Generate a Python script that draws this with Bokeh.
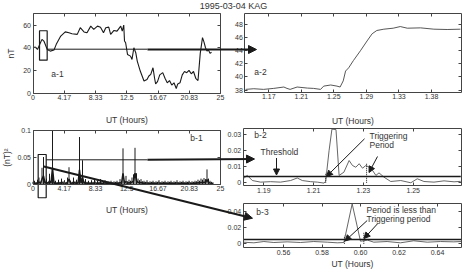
import numpy as np
from bokeh.plotting import figure
from bokeh.models import Range1d, LinearAxis, FixedTicker, Label, Arrow, NormalHead
from bokeh.embed import file_html
from bokeh.resources import INLINE

W, H = 465, 271
FONT = "Liberation Sans"
INK = "#1a1a1a"
AXC = "#444444"
TXT = "#333333"

title_text = "1995-03-04 KAG"
x_label = "UT (Hours)"

# ---- panel a-1 : whole day, nT ----
a1_t = [0.0, 0.3, 0.6, 0.9, 1.2, 1.45, 1.6, 1.9, 2.3, 2.8, 3.1, 3.7, 4.3, 4.8, 5.2, 5.9,
        6.3, 6.8, 7.2, 7.7, 8.1, 8.6, 9.0, 9.4, 9.7, 10.1, 10.35, 10.8, 11.2, 11.7, 11.9,
        12.1, 12.2, 12.35, 12.6, 13.0, 13.2, 13.45, 13.7, 13.9, 14.3, 14.8, 15.2, 15.45,
        15.7, 16.0, 16.2, 16.35, 16.6, 16.9, 17.3, 17.6, 17.9, 18.2, 18.5, 18.8, 19.1,
        19.3, 19.6, 19.9, 20.2, 20.5, 20.8, 21.1, 21.4, 21.7, 22.0, 22.3, 22.6, 22.8,
        23.0, 23.2, 23.4, 23.6, 23.8, 24.0]
a1_v = [40, 40.6, 38.5, 43, 47.4, 45.9, 43.5, 38.5, 37, 38, 43, 50.3, 54, 53.2, 52.4,
        51.8, 57.7, 54, 53.2, 59.1, 56.2, 59.1, 58.2, 53.2, 57.7, 58.2, 51.8, 55.3, 54.7,
        59.1, 54.7, 60, 46, 44.4, 34.1, 32.6, 29.7, 40, 35.6, 28.2, 19.4, 10.6, 12, 15,
        16.5, 22.3, 13.5, 8, 10, 16, 18, 13, 9, 11, 7, 9, 4, 8, 9, 16, 19, 18, 20, 17, 19,
        13, 11, 35, 49, 45, 40, 37, 38, 35, 36]
a1_ticks = [0, 25 / 6, 50 / 6, 12.5, 100 / 6, 125 / 6, 25]
a1_tick_labels = ["0", "4.17", "8.33", "12.5", "16.67", "20.83", "25"]
a1_yticks = [0, 20, 40, 60]
a1_ytick_labels = ["0", "20", "40", "60"]
a1_box_t = [0.87, 1.89]
a1_box_v = [29, 55]

# ---- panel a-2 : zoom, nT ----
a2_t = [1.137, 1.1475, 1.160, 1.173, 1.186, 1.190, 1.194, 1.203, 1.216, 1.224, 1.233,
        1.237, 1.246, 1.254, 1.258, 1.262, 1.265, 1.269, 1.275, 1.284, 1.2925, 1.299,
        1.305, 1.314, 1.326, 1.335, 1.344, 1.361, 1.378, 1.395, 1.412]
a2_v = [38.1, 38.2, 38.1, 38.25, 38.46, 38.25, 38.1, 38.46, 38.3, 38.25, 38.1, 38.6,
        38.77, 38.6, 38.46, 39.4, 40.9, 41.4, 42.5, 44.0, 45.5, 46.6, 47.1, 47.3, 47.45,
        47.7, 47.45, 47.5, 47.3, 47.25, 47.3]
a2_ticks = [1 + 10 / 60, 1 + 12.5 / 60, 1.25, 1 + 17.5 / 60, 1 + 20 / 60, 1 + 22.5 / 60]
a2_tick_labels = ["1.17", "1.21", "1.25", "1.29", "1.33", "1.38"]
a2_yticks = [38, 40, 42, 44, 46, 48]
a2_ytick_labels = ["38", "40", "42", "44", "46", "48"]

# ---- panel b-1 : whole day, (nT)^2 ----
b1_t = [round(0.2 * i, 1) for i in range(121)]
b1_v = [0.004, 0.006, 0.003, 0.008, 0.012, 0.004, 0.030, 0.050, 0.006, 0.010,
        0.004, 0.019, 0.005, 0.100, 0.004, 0.006, 0.003, 0.008, 0.004, 0.010,
        0.005, 0.007, 0.003, 0.012, 0.031, 0.006, 0.004, 0.012, 0.005, 0.008,
        0.004, 0.087, 0.006, 0.044, 0.005, 0.009, 0.004, 0.006, 0.003, 0.007,
        0.004, 0.008, 0.003, 0.006, 0.004, 0.009, 0.003, 0.005, 0.007, 0.003,
        0.005, 0.004, 0.006, 0.003, 0.005, 0.004, 0.006, 0.003, 0.009, 0.004,
        0.066, 0.006, 0.015, 0.005, 0.008, 0.006, 0.012, 0.018, 0.067, 0.020,
        0.010, 0.007, 0.009, 0.005, 0.006, 0.004, 0.007, 0.003, 0.005, 0.004,
        0.006, 0.003, 0.005, 0.004, 0.007, 0.003, 0.005, 0.004, 0.006, 0.003,
        0.005, 0.004, 0.006, 0.003, 0.005, 0.004, 0.007, 0.003, 0.005, 0.004,
        0.006, 0.003, 0.005, 0.004, 0.006, 0.003, 0.005, 0.004, 0.006, 0.005,
        0.008, 0.006, 0.010, 0.008, 0.011, 0.009, 0.027, 0.010, 0.006, 0.004,
        0.003]
b1_yticks = [0, 0.05, 0.1]
b1_ytick_labels = ["0", "0.05", "0.1"]
b1_box_t = [0.69, 1.76]
b1_box_v = [-0.0255, 0.0546]

# ---- panel b-2 ----
b2_t = [1.1789, 1.1806, 1.1827, 1.1862, 1.1903, 1.1945, 1.1987, 1.2015, 1.2036, 1.2071,
        1.2099, 1.2127, 1.2134, 1.2148, 1.2160, 1.2177, 1.2190, 1.2210, 1.2232, 1.2246,
        1.2260, 1.2274, 1.2288, 1.2302, 1.2316, 1.2330, 1.2344, 1.2357, 1.2378, 1.2406,
        1.2448, 1.2490, 1.2517, 1.2545, 1.2587, 1.2629, 1.2671, 1.2699]
b2_v = [0.0025, 0.0046, 0.0014, 0.0004, 0.0007, 0.0004, 0.0014, 0.0030, 0.0014, 0.0007,
        0.0004, -0.0002, 0.0010, 0.0200, 0.0335, 0.0332, 0.0046, 0.0066, 0.0139, 0.0108,
        0.0097, 0.0119, 0.0091, 0.0108, 0.0097, 0.0077, 0.0046, 0.0062, 0.0035, 0.0008,
        0.0014, 0.0000, 0.0025, 0.0008, 0.0004, 0.0012, 0.0006, 0.0009]
b2_ticks = [1.1875, 1 + 12.5 / 60, 1 + 13.75 / 60, 1.25]
b2_tick_labels = ["1.19", "1.21", "1.23", "1.25"]
b2_yticks = [0, 0.01, 0.02, 0.03]
b2_ytick_labels = ["0", "0.01", "0.02", "0.03"]
b2_threshold = 0.0039
b2_trigger_t = [1.2134, 1.2305]
b2_trigger_top = [0.0063, 0.0120]

# ---- panel b-3 ----
b3_t = [0.5365, 0.5423, 0.5477, 0.5531, 0.5603, 0.5675, 0.5747, 0.5820, 0.5874, 0.5910,
        0.5955, 0.6000, 0.6038, 0.6072, 0.6144, 0.6216, 0.6288, 0.6361, 0.6433, 0.6505,
        0.6545]
b3_v = [0.0020, 0.0012, 0.0028, 0.0016, 0.0024, 0.0016, 0.0028, 0.0020, 0.0012, 0.0016,
        0.0490, 0.0032, 0.0045, 0.0020, 0.0028, 0.0012, 0.0037, 0.0020, 0.0028, 0.0024,
        0.0028]
b3_ticks = [0.55 + 0.5 / 60, 0.55 + 1.75 / 60, 0.6, 0.6 + 1.25 / 60, 0.6 + 2.5 / 60]
b3_tick_labels = ["0.56", "0.58", "0.60", "0.62", "0.64"]
b3_yticks = [0, 0.02, 0.04]
b3_ytick_labels = ["0", "0.02", "0.04"]
b3_threshold = 0.0053
b3_trigger_t = [0.5913, 0.6018]
b3_trigger_top = [0.0100, 0.0140]

# ---------------------------------------------------------------
p = figure(width=W, height=H, x_range=Range1d(0, W), y_range=Range1d(H, 0),
           min_border=0, x_axis_location=None, y_axis_location=None,
           toolbar_location=None, output_backend="svg", outline_line_color=None,
           background_fill_color="white", border_fill_color="white")
p.xgrid.visible = False
p.ygrid.visible = False

panels = {}


def make_panel(name, rect, xr, yr):
    L, R, T, B = rect
    x0, x1 = xr
    y0, y1 = yr
    sx = (x1 - x0) / (R - L)
    sy = (y1 - y0) / (B - T)
    xs = dict(p.extra_x_ranges)
    xs[name] = Range1d(x0 - L * sx, x0 + (W - L) * sx)
    p.extra_x_ranges = xs
    ys = dict(p.extra_y_ranges)
    ys[name] = Range1d(y0 - (H - B) * sy, y1 + T * sy)
    p.extra_y_ranges = ys
    panels[name] = (xr, yr)


def add_axes(name, xt, xl, yt, yl, xlab=None, ylab=None, xstand=8, ystand=3):
    xr, yr = panels[name]
    base = dict(x_range_name=name, y_range_name=name, axis_line_color=AXC,
                axis_line_width=1, major_tick_line_color=AXC, major_tick_in=3,
                major_tick_out=0, minor_tick_in=0, minor_tick_out=0,
                major_label_text_font=FONT, major_label_text_color=TXT,
                major_label_standoff=2, major_label_text_font_size="7px",
                axis_label_text_font=FONT, axis_label_text_font_size="8.5px",
                axis_label_text_font_style="normal", axis_label_text_color=TXT)
    xover = {float(t): s for t, s in zip(xt, xl)}
    yover = {float(t): s for t, s in zip(yt, yl)}
    xblank = {float(t): "" for t in xt}
    yblank = {float(t): "" for t in yt}
    p.add_layout(LinearAxis(fixed_location=yr[0], bounds=xr, ticker=FixedTicker(ticks=xt),
                            major_label_overrides=xover, axis_label=xlab,
                            axis_label_standoff=xstand, **base), "below")
    p.add_layout(LinearAxis(fixed_location=yr[1], bounds=xr, ticker=FixedTicker(ticks=xt),
                            major_label_overrides=xblank, **base), "above")
    p.add_layout(LinearAxis(fixed_location=xr[0], bounds=yr, ticker=FixedTicker(ticks=yt),
                            major_label_overrides=yover, axis_label=ylab,
                            axis_label_standoff=ystand, **base), "left")
    p.add_layout(LinearAxis(fixed_location=xr[1], bounds=yr, ticker=FixedTicker(ticks=yt),
                            major_label_overrides=yblank, **base), "right")


make_panel("a1", (32.5, 220, 13.3, 92.5), (0, 25), (0, 70))
make_panel("a2", (244.3, 461, 13.3, 91.5), (1.136, 1.4134), (37.7, 49.65))
make_panel("b1", (32.5, 220, 129.5, 183.5), (0, 25), (0, 0.1))
make_panel("b2", (242.7, 461, 128, 185), (1.17888, 1.27021), (-0.0017, 0.0339))
make_panel("b3", (242.7, 461, 202.7, 247.3), (0.53652, 0.65466), (-0.0049, 0.0498))

# data
p.line(a1_t, a1_v, x_range_name="a1", y_range_name="a1", line_color=INK, line_width=1.1)
p.quad(left=[a1_box_t[0]], right=[a1_box_t[1]], bottom=[a1_box_v[0]], top=[a1_box_v[1]],
       x_range_name="a1", y_range_name="a1", fill_color=None, line_color=INK, line_width=1.2)

p.line(a2_t, a2_v, x_range_name="a2", y_range_name="a2", line_color="#444444", line_width=0.9)

p.segment(x0=b1_t, y0=[0] * len(b1_t), x1=b1_t, y1=b1_v, x_range_name="b1",
          y_range_name="b1", line_color=INK, line_width=1)
p.line(b1_t, [v * 0.3 for v in b1_v], x_range_name="b1", y_range_name="b1",
       line_color=INK, line_width=1.5)
p.quad(left=[b1_box_t[0]], right=[b1_box_t[1]], bottom=[b1_box_v[0]], top=[b1_box_v[1]],
       x_range_name="b1", y_range_name="b1", fill_color=None, line_color=INK, line_width=1.2)

p.line(b2_t, b2_v, x_range_name="b2", y_range_name="b2", line_color="#555555", line_width=0.9)
p.line([b2_t[0], b2_t[-1]], [b2_threshold] * 2, x_range_name="b2", y_range_name="b2",
       line_color=INK, line_width=1.6)
p.segment(x0=b2_trigger_t, y0=[0, 0], x1=b2_trigger_t, y1=b2_trigger_top,
          x_range_name="b2", y_range_name="b2", line_color=INK, line_width=1, line_dash="1 1")

p.line(b3_t, b3_v, x_range_name="b3", y_range_name="b3", line_color="#555555", line_width=0.9)
p.line([b3_t[0], b3_t[-1]], [b3_threshold] * 2, x_range_name="b3", y_range_name="b3",
       line_color=INK, line_width=1.6)
p.segment(x0=b3_trigger_t, y0=[0, 0], x1=b3_trigger_t, y1=b3_trigger_top,
          x_range_name="b3", y_range_name="b3", line_color=INK, line_width=1, line_dash="1 1")

# axes
add_axes("a1", a1_ticks, a1_tick_labels, a1_yticks, a1_ytick_labels, xlab=x_label, ylab="nT",
         xstand=11, ystand=5)
add_axes("a2", a2_ticks, a2_tick_labels, a2_yticks, a2_ytick_labels, xlab=x_label, xstand=13)
add_axes("b1", a1_ticks, a1_tick_labels, b1_yticks, b1_ytick_labels, xlab=x_label,
         ylab="(nT)²", xstand=10, ystand=3)
add_axes("b2", b2_ticks, b2_tick_labels, b2_yticks, b2_ytick_labels)
add_axes("b3", b3_ticks, b3_tick_labels, b3_yticks, b3_ytick_labels, xlab=x_label, xstand=1)

# connector arrows (screen layout, pixel units of the page)
p.line([46.7, 147], [48.7, 48.7], line_color=INK, line_width=1)
p.add_layout(Arrow(end=NormalHead(size=8, fill_color=INK, line_color=INK),
                   x_start=147, y_start=49, x_end=256, y_end=49,
                   line_color=INK, line_width=2))
p.line([45.7, 147], [159.3, 159.3], line_color=INK, line_width=1)
p.add_layout(Arrow(end=NormalHead(size=8, fill_color=INK, line_color=INK),
                   x_start=147, y_start=159.3, x_end=254, y_end=158.5,
                   line_color=INK, line_width=2))
p.add_layout(Arrow(end=NormalHead(size=8, fill_color=INK, line_color=INK),
                   x_start=43.3, y_start=166, x_end=252, y_end=217.7,
                   line_color=INK, line_width=2))

small = dict(fill_color=INK, line_color=INK)
for xs_, ys_, xe, ye in [(276, 157.5, 276, 174.5), (364, 138.3, 326, 176),
                         (377, 156, 368.5, 172), (366.7, 220, 344.5, 240.5),
                         (377, 223.3, 363.5, 238)]:
    p.add_layout(Arrow(end=NormalHead(size=6, **small), x_start=xs_, y_start=ys_,
                       x_end=xe, y_end=ye, line_color=INK, line_width=1))

# texts
def txt(x, y, s, align="left", size="8.5px"):
    p.add_layout(Label(x=x, y=y, text=s, text_font=FONT, text_font_size=size,
                       text_color=TXT, text_align=align, text_baseline="middle"))


txt(233, 5, title_text, align="center", size="9px")
txt(57, 73.5, "a-1", align="center")
txt(260, 71, "a-2", align="center")
txt(196, 137, "b-1", align="center")
txt(260, 134, "b-2", align="center")
txt(262, 211.5, "b-3", align="center")
txt(260, 151.7, "Threshold")
txt(369, 135.7, "Triggering")
txt(369, 144.3, "Period")
txt(366, 209, "Period is less than")
txt(366, 218.3, "Triggering period")

open("out.html", "w").write(file_html(p, INLINE))
